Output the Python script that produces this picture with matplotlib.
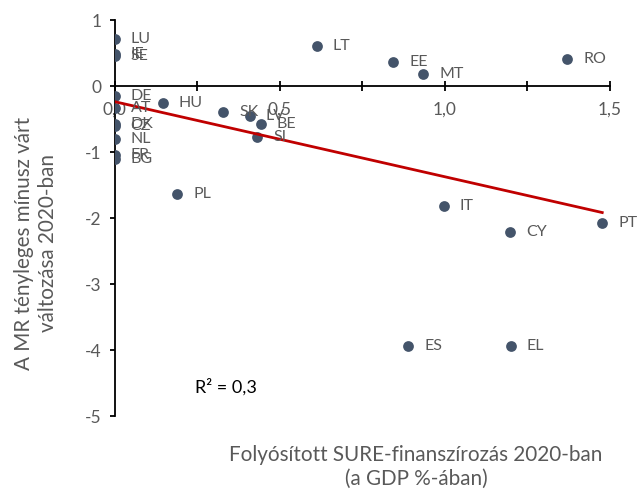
import matplotlib
matplotlib.use("Agg")
import matplotlib.pyplot as plt
from matplotlib.ticker import MultipleLocator, FuncFormatter

plt.rcParams['font.family'] = ['Lato', 'DejaVu Sans']

countries = ["LU", "IE", "SE", "DE", "AT", "DK", "CZ", "NL", "FR", "BG",
             "HU", "SK", "LV", "BE", "SI", "LT", "EE", "MT", "RO",
             "PL", "IT", "CY", "PT", "ES", "EL"]
sure_funding = [0.0, 0.0, 0.0, 0.0, 0.0, 0.0, 0.0, 0.0, 0.0, 0.0,
                0.146, 0.33, 0.41, 0.444, 0.433, 0.613, 0.845, 0.936, 1.372,
                0.19, 0.998, 1.199, 1.478, 0.89, 1.20]
ur_diff = [0.71, 0.49, 0.45, -0.15, -0.34, -0.58, -0.61, -0.80, -1.05, -1.11,
           -0.26, -0.40, -0.455, -0.58, -0.77, 0.61, 0.37, 0.18, 0.41,
           -1.64, -1.82, -2.21, -2.07, -3.94, -3.94]
trend_intercept = -0.237
trend_slope = -1.137
r2_text = "R² = 0,3"

GRAY = "#595959"
DOT = "#44546A"
RED = "#C00000"

fig = plt.figure(figsize=(6.37, 4.93), dpi=100)
W, H = 637, 493
ax = fig.add_axes([114.5 / W, 1 - 416 / H, (609.5 - 114.5) / W, (416 - 20) / H])

ax.scatter(sure_funding, ur_diff, s=60, color=DOT, zorder=3, linewidths=0)
x_end = max(sure_funding)
ax.plot([0, x_end], [trend_intercept, trend_intercept + trend_slope * x_end],
        color=RED, lw=2.0, zorder=4)

for c, x, y in zip(countries, sure_funding, ur_diff):
    ax.annotate(c, (x, y), xytext=(11.5, 0), textcoords="offset points",
                ha="left", va="center", fontsize=11.5, color=GRAY, zorder=5)

ax.text(0.244, -4.56, r2_text, fontsize=13, color="black", ha="left", va="center")

ax.set_xlim(0, 1.5)
ax.set_ylim(-5, 1)
ax.spines["top"].set_visible(False)
ax.spines["right"].set_visible(False)
ax.spines["left"].set_position(("data", 0))
ax.spines["bottom"].set_position(("data", 0))
ax.spines["left"].set_zorder(2)
ax.spines["bottom"].set_zorder(2)
for s in ("left", "bottom"):
    ax.spines[s].set_linewidth(1.3)
    ax.spines[s].set_color("black")

ax.xaxis.set_major_locator(MultipleLocator(0.5))
ax.xaxis.set_minor_locator(MultipleLocator(0.25))
ax.yaxis.set_major_locator(MultipleLocator(1))
ax.xaxis.set_major_formatter(FuncFormatter(lambda v, p: f"{v:.1f}".replace(".", ",")))
ax.yaxis.set_major_formatter(FuncFormatter(lambda v, p: f"{v:.0f}"))
ax.tick_params(axis="x", which="both", direction="inout", length=7, width=1.3,
               pad=8, labelsize=12.5, labelcolor=GRAY, color="black")
ax.tick_params(axis="y", which="major", direction="out", length=3.6, width=1.3,
               pad=6, labelsize=12.5, labelcolor=GRAY, color="black")

fig.text(416 / W, 1 - 455 / H, "Folyósított SURE-finanszírozás 2020-ban",
         ha="center", va="center", fontsize=14.9, color=GRAY)
fig.text(416 / W, 1 - 479 / H, "(a GDP %-ában)",
         ha="center", va="center", fontsize=14.9, color=GRAY)
fig.text(24 / W, 1 - 243 / H, "A MR tényleges mínusz várt",
         ha="center", va="center", rotation=90, fontsize=14.9, color=GRAY)
fig.text(48 / W, 1 - 243 / H, "változása 2020-ban",
         ha="center", va="center", rotation=90, fontsize=14.9, color=GRAY)

fig.savefig("out.png", dpi=100)
